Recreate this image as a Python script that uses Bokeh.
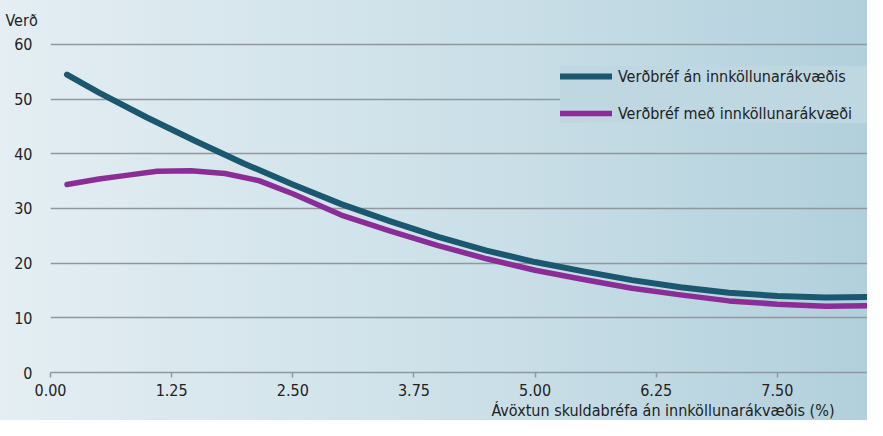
from bokeh.plotting import figure
from bokeh.models import FixedTicker, Legend, LegendItem, Title, Range1d
from bokeh.embed import file_html
from bokeh.resources import INLINE

# ---- data ----
x_an = [0.17, 0.5, 1.0, 1.5, 2.0, 2.5, 3.0, 3.5, 4.0, 4.5, 5.0, 5.5, 6.0, 6.5, 7.0, 7.5, 8.0, 8.45]
y_an = [54.5, 51.2, 46.6, 42.3, 38.2, 34.4, 30.8, 27.7, 24.8, 22.3, 20.2, 18.5, 16.9, 15.6, 14.6, 14.0, 13.7, 13.8]

x_med = [0.17, 0.5, 0.8, 1.1, 1.45, 1.8, 2.15, 2.5, 3.0, 3.5, 4.0, 4.5, 5.0, 5.5, 6.0, 6.5, 7.0, 7.5, 8.0, 8.45]
y_med = [34.4, 35.4, 36.1, 36.8, 36.9, 36.4, 35.1, 32.7, 28.8, 25.9, 23.2, 20.8, 18.7, 17.0, 15.4, 14.2, 13.1, 12.5, 12.1, 12.2]

x_ticks = [0.0, 1.25, 2.5, 3.75, 5.0, 6.25, 7.5]
x_tick_labels = ["0.00", "1.25", "2.50", "3.75", "5.00", "6.25", "7.50"]
y_ticks = [0, 10, 20, 30, 40, 50, 60]

series_names = ["Verðbréf án innköllunarákvæðis", "Verðbréf með innköllunarákvæði"]
y_title = "Verð"
x_title = "Ávöxtun skuldabréfa án innköllunarákvæðis (%)"

FONT = "'DejaVu Sans Condensed', 'Liberation Sans Narrow', Roboto, sans-serif"
FS = "16px"
TXT = "#222222"
GRID = "#8f999d"

p = figure(width=867, height=420, output_backend="svg", toolbar_location=None,
           x_range=Range1d(0, 8.43), y_range=Range1d(0, 61.46),
           min_border_left=50, min_border_right=0, min_border_top=36, min_border_bottom=48)
p.styles = {"background": "linear-gradient(to right, #e4eef3 0%, #c9dee7 60%, #b1d0dc 100%)"}
p.background_fill_alpha = 0
p.border_fill_alpha = 0
p.outline_line_color = None

# axes
p.xaxis.ticker = FixedTicker(ticks=x_ticks)
p.xaxis.major_label_overrides = {t: l for t, l in zip(x_ticks, x_tick_labels)}
p.xaxis.axis_line_color = GRID
p.xaxis.axis_line_width = 1.5
p.xaxis.major_tick_line_color = GRID
p.xaxis.major_tick_line_width = 1.5
p.xaxis.major_tick_in = 0
p.xaxis.major_tick_out = 5
p.xaxis.minor_tick_line_color = None
p.xaxis.major_label_standoff = 6

p.yaxis.ticker = FixedTicker(ticks=y_ticks)
p.yaxis.axis_line_color = None
p.yaxis.major_tick_line_color = None
p.yaxis.minor_tick_line_color = None
p.yaxis.major_label_standoff = 12

for ax in (p.xaxis, p.yaxis):
    ax.major_label_text_font = FONT
    ax.major_label_text_font_size = FS
    ax.major_label_text_color = TXT

p.xgrid.visible = False
p.ygrid.ticker = FixedTicker(ticks=y_ticks)
p.ygrid.grid_line_color = GRID
p.ygrid.grid_line_width = 1.5

# lines
r_med = p.line(x_med, y_med, line_color="#8a2d97", line_width=5.5, line_cap="round", line_join="round")
r_an = p.line(x_an, y_an, line_color="#1a5870", line_width=6, line_cap="round", line_join="round")

legend = Legend(items=[LegendItem(label=series_names[0], renderers=[r_an]),
                       LegendItem(label=series_names[1], renderers=[r_med])],
                location=(510, 249), orientation="vertical")
legend.glyph_width = 52
legend.glyph_height = 20
legend.label_height = 20
legend.label_width = 300
legend.spacing = 17
legend.padding = 16
legend.margin = 0
legend.label_standoff = 6
legend.border_line_color = None
legend.background_fill_color = "#bed7e1"
legend.background_fill_alpha = 1
legend.label_text_font = FONT
legend.label_text_font_size = FS
legend.label_text_color = TXT
p.add_layout(legend)

p.add_layout(Title(text=y_title, align="left", offset=-45, standoff=14,
                   text_font=FONT, text_font_size=FS, text_font_style="normal", text_color=TXT), "above")
p.add_layout(Title(text=x_title, align="right", offset=33, standoff=0,
                   text_font=FONT, text_font_size=FS, text_font_style="normal", text_color=TXT), "below")

open("out.html", "w").write(file_html(p, INLINE))
